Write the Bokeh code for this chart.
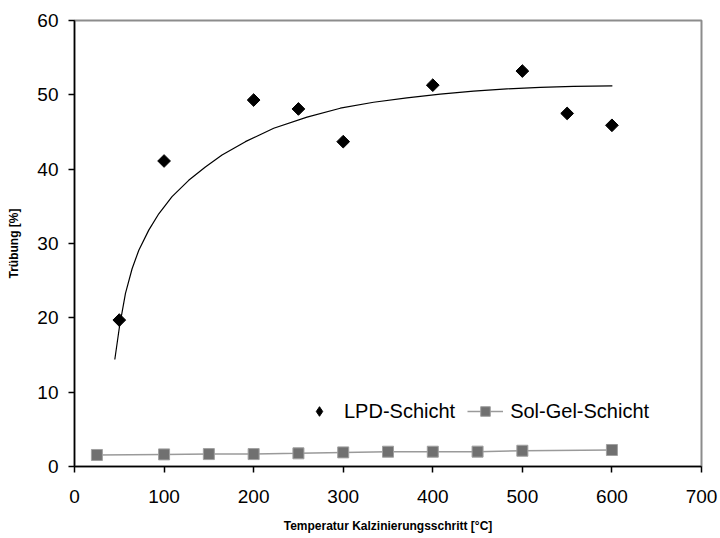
import math
from bokeh.plotting import figure
from bokeh.models import Range1d, FixedTicker, Legend, LegendItem
from bokeh.embed import file_html
from bokeh.resources import INLINE

# LPD-Schicht (measured points)
lpd_x = [50, 100, 200, 250, 300, 400, 500, 550, 600]
lpd_y = [19.7, 41.1, 49.3, 48.1, 43.7, 51.3, 53.2, 47.5, 45.9]

# Trend curve for LPD
trend_x = [45, 50.2, 56.9, 64.3, 71.8, 82.9, 94.1, 108.9, 127.5, 146.1, 164.7, 190.8,
           222.4, 259.6, 296.7, 333.9, 371.1, 408.3, 445.5, 482.7, 519.9, 557.0, 600.5]
trend_y = [14.4, 18.8, 23.3, 26.6, 29.1, 31.8, 34.0, 36.3, 38.5, 40.3, 41.9, 43.7,
           45.5, 47.0, 48.2, 49.0, 49.6, 50.1, 50.5, 50.8, 51.0, 51.15, 51.2]

# Sol-Gel-Schicht
sg_x = [25, 100, 150, 200, 250, 300, 350, 400, 450, 500, 600]
sg_y = [1.55, 1.63, 1.67, 1.67, 1.77, 1.9, 1.99, 1.99, 2.0, 2.12, 2.22]

x_ticks = [0, 100, 200, 300, 400, 500, 600, 700]
y_ticks = [0, 10, 20, 30, 40, 50, 60]

FONT = "Liberation Sans"

p = figure(width=720, height=538, output_backend="svg", toolbar_location=None,
           x_range=Range1d(0, 700), y_range=Range1d(0, 60),
           min_border_left=74, min_border_right=19, min_border_top=20, min_border_bottom=72)
p.background_fill_color = "white"
p.border_fill_color = "white"
p.outline_line_color = "#8c8c8c"
p.outline_line_width = 2
p.xgrid.grid_line_color = None
p.ygrid.grid_line_color = None

for ax, ticks in ((p.xaxis[0], x_ticks), (p.yaxis[0], y_ticks)):
    ax.ticker = FixedTicker(ticks=ticks)
    ax.minor_tick_line_color = None
    ax.major_tick_in = 0
    ax.major_tick_out = 6
    ax.axis_line_color = "black"
    ax.axis_line_width = 1.5
    ax.major_tick_line_color = "black"
    ax.major_tick_line_width = 1.5
    ax.major_label_text_font = FONT
    ax.major_label_text_font_size = "19px"
    ax.major_label_text_color = "black"
    ax.axis_label_text_font = FONT
    ax.axis_label_text_font_size = "12px"
    ax.axis_label_text_font_style = "bold"
    ax.axis_label_text_color = "black"

p.xaxis.axis_label = "Temperatur Kalzinierungsschritt [°C]"
p.yaxis.axis_label = "Trübung [%]"
p.xaxis.major_label_standoff = 17
p.xaxis.axis_label_standoff = 13
p.yaxis.major_label_standoff = 10
p.yaxis.axis_label_standoff = 13

p.line(trend_x, trend_y, line_color="black", line_width=1.2)

p.scatter(lpd_x, lpd_y, marker="square", angle=math.pi / 4, size=9,
          fill_color="black", line_color="black", line_width=1)
# hidden renderer that only supplies the diamond symbol of the legend
r_lpd_leg = p.scatter(lpd_x, lpd_y, marker="diamond", size=10,
                      fill_color="black", line_color="black", line_width=1)
r_lpd_leg.visible = False

r_sg_line = p.line(sg_x, sg_y, line_color="#9a9a9a", line_width=1.5)
r_sg_pts = p.scatter(sg_x, sg_y, marker="square", size=11,
                     fill_color="#707070", line_color="#a0a0a0", line_width=1)

legend = Legend(items=[LegendItem(label="LPD-Schicht", renderers=[r_lpd_leg]),
                       LegendItem(label="Sol-Gel-Schicht", renderers=[r_sg_line, r_sg_pts])],
                orientation="horizontal", location=(227, 43))
legend.border_line_color = None
legend.background_fill_alpha = 0
legend.padding = 0
legend.margin = 0
legend.spacing = 12
legend.glyph_width = 36
legend.glyph_height = 24
legend.label_standoff = 7
legend.label_text_font = FONT
legend.label_text_font_size = "20px"
legend.label_text_color = "black"
p.add_layout(legend, "center")

open("out.html", "w").write(file_html(p, INLINE))
